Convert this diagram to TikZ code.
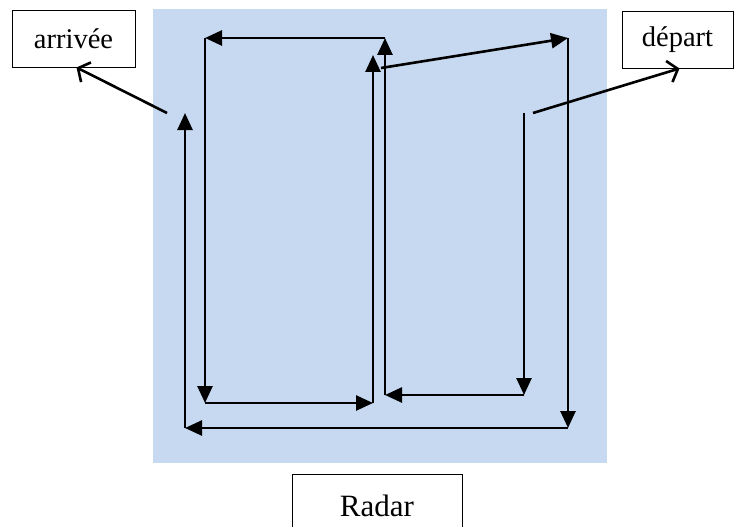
\documentclass[tikz,border=0pt]{standalone}
\usepackage{fontspec}
\setmainfont{Liberation Serif}
\usetikzlibrary{arrows.meta}
\definecolor{radarbg}{HTML}{C6D9F1}

\begin{document}
\begin{tikzpicture}[
    x=1pt, y=-1pt,
    box/.style={
        draw,
        line width=0.9pt,
        inner sep=0pt,
        font=\fontsize{28.5}{34}\selectfont
    },
    track/.style={-{Triangle[length=17pt,width=15pt]}, line width=2.6pt},
    pointer/.style={-{Straight Barb[length=9pt,width=22pt]}, line width=2.6pt}
]
\useasboundingbox (0,0) rectangle (734,527);
\fill[radarbg] (153,9) rectangle (607,463);

\node[box, minimum width=123pt, minimum height=57pt] (arrivee) at (73.5,38.5) {arrivée};
\node[box, minimum width=111pt, minimum height=57pt] (depart) at (677.5,39.5) {départ};
\node[box, minimum width=170pt, minimum height=63pt, font=\fontsize{31}{36}\selectfont] (radar) at (377,505.5) {Radar};

% flight track
\coordinate (t0) at (524,113);
\coordinate (t1) at (524,395);
\coordinate (t2) at (385,395);
\coordinate (t3) at (385,38);
\coordinate (t4) at (205,38);
\coordinate (t5) at (205,403);
\coordinate (t6) at (373,403);
\coordinate (t7) at (373,55);
\coordinate (u0) at (381,68);
\coordinate (u1) at (568,38);
\coordinate (u2) at (568,428);
\coordinate (u3) at (185,428);
\coordinate (u4) at (185,113);

\foreach \from/\to in {t0/t1, t1/t2, t2/t3, t3/t4, t4/t5, t5/t6, t6/t7, u0/u1, u1/u2, u2/u3, u3/u4}
    \draw[track] (\from) -- (\to);

\coordinate (dep) at (533,113);
\coordinate (arr) at (167,113);
\draw[pointer] (dep) -- ([xshift=2pt]depart.south);
\draw[pointer] (arr) -- ([xshift=3pt]arrivee.south);
\end{tikzpicture}
\end{document}
